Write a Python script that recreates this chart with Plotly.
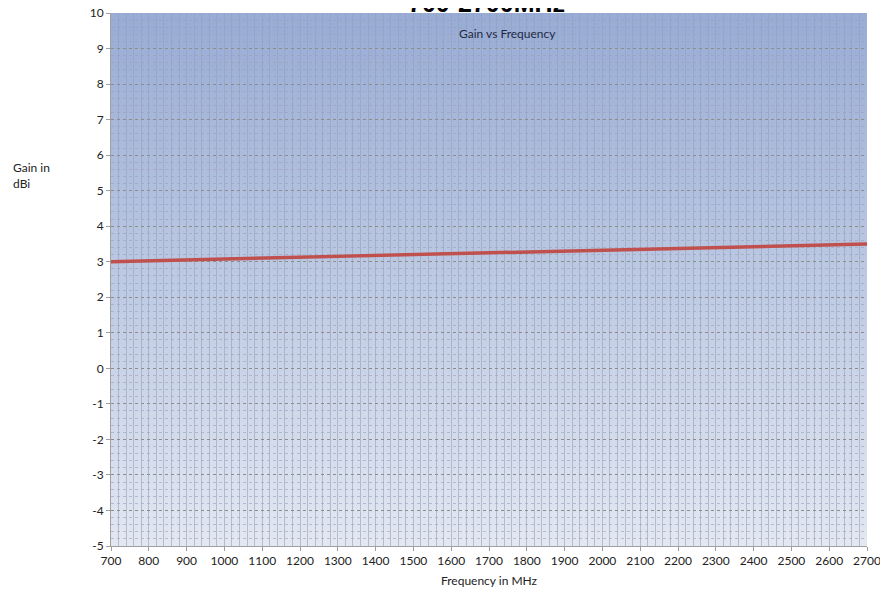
import plotly.graph_objects as go

# Data
freq_mhz = [700, 2700]
gain_dbi = [3.0, 3.5]
x_ticks = list(range(700, 2701, 100))
y_ticks = list(range(-5, 11, 1))

fig = go.Figure()
fig.add_trace(go.Scatter(
    x=freq_mhz, y=gain_dbi, mode="lines",
    line=dict(color="#C0504D", width=3.5),
    showlegend=False, hoverinfo="skip",
))

# vertical gradient background (decoration)
top = (152, 172, 213)
bot = (226, 231, 241)
n = 80
shapes = []
for i in range(n):
    t = i / (n - 1)
    c = tuple(int(round(top[k] + (bot[k] - top[k]) * t)) for k in range(3))
    shapes.append(dict(
        type="rect", xref="paper", yref="paper",
        x0=0, x1=1, y1=1 - i / n, y0=1 - (i + 1) / n - 0.002,
        fillcolor="rgb(%d,%d,%d)" % c, line=dict(width=0), layer="below",
    ))

font_main = "Lato, Open Sans, sans-serif"

fig.update_layout(
    width=880, height=580,
    margin=dict(l=103, r=21, t=5, b=42),
    paper_bgcolor="white", plot_bgcolor="rgba(0,0,0,0)",
    shapes=shapes,
    font=dict(family=font_main, size=12, color="#222222"),
    xaxis=dict(
        range=[700, 2700], tickvals=x_ticks, ticktext=[str(v) for v in x_ticks],
        showgrid=False, zeroline=False, automargin=False, ticklabeloverflow="allow",
        showline=True, linecolor="#A0A0A0", linewidth=1,
        ticks="outside", ticklen=4, tickcolor="#A0A0A0",
        tickfont=dict(size=12, color="#222222"),
        minor=dict(dtick=20, showgrid=True, gridcolor="rgba(150,160,185,0.6)", gridwidth=1),
        title=dict(text="Frequency in MHz", font=dict(size=12, color="#222222"), standoff=9),
    ),
    yaxis=dict(
        range=[-5, 10], tickvals=y_ticks, ticktext=[str(v) for v in y_ticks],
        showgrid=True, gridcolor="#8C8C8C", gridwidth=1, griddash="dot",
        zeroline=False, automargin=False, ticklabeloverflow="allow",
        showline=True, linecolor="#A0A0A0", linewidth=1,
        ticks="outside", ticklen=4, tickcolor="#A0A0A0",
        tickfont=dict(size=12, color="#222222"),
        minor=dict(dtick=0.2, showgrid=True, gridcolor="rgba(150,160,185,0.6)", gridwidth=1),
    ),
    annotations=[
        dict(text="<b>700-2700MHz</b>", xref="paper", yref="paper", x=0.497, y=1,
             yshift=-6, xanchor="center", yanchor="bottom", showarrow=False,
             font=dict(family="Liberation Sans, Arial, sans-serif", size=25, color="black")),
        dict(text="Gain vs Frequency", xref="paper", yref="paper", x=0.524, y=0.961,
             xanchor="center", yanchor="middle", showarrow=False,
             font=dict(family=font_main, size=12, color="#1F2A44")),
        dict(text="Gain in<br>dBi", xref="paper", yref="paper", x=-0.1325, y=0.696,
             xanchor="left", yanchor="middle", align="left", showarrow=False,
             font=dict(family=font_main, size=12, color="#222222")),
    ],
)

fig.write_html("out.html")
